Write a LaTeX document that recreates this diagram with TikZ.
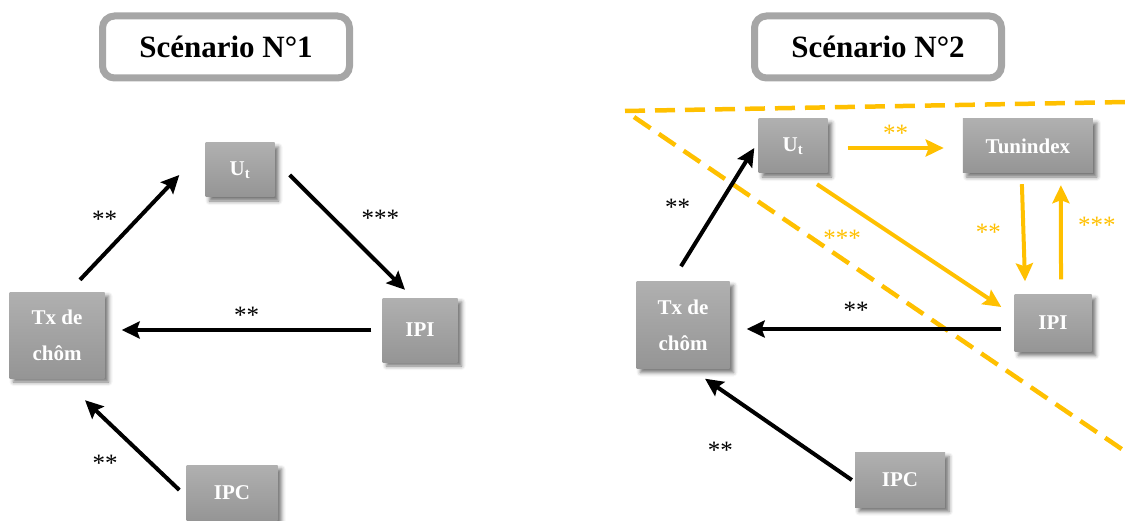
\documentclass[tikz,border=0pt]{standalone}
\usepackage{fontspec}
\setmainfont{Liberation Serif}
\usetikzlibrary{arrows.meta, positioning, shadows.blur}
\definecolor{gold}{HTML}{FFC000}
\definecolor{boxtop}{HTML}{B0B0B0}
\definecolor{boxbot}{HTML}{959595}
\definecolor{frame}{HTML}{A6A6A6}

\begin{document}
\begin{tikzpicture}[
        x=1pt, y=-1pt,
        title/.style={
            rectangle,
            rounded corners=12pt,
            line width=7pt,
            draw=frame,
            fill=white,
            minimum width=247pt,
            minimum height=62pt,
            font=\fontsize{31}{36}\selectfont\bfseries
        },
        box/.style={
            rectangle,
            top color=boxtop,
            bottom color=boxbot,
            text=white,
            align=center,
            font=\fontsize{21}{36}\selectfont\bfseries,
            blur shadow={shadow xshift=4pt, shadow yshift=-4pt, shadow blur radius=4pt, shadow opacity=55}
        },
        arrow/.style={
            line width=4pt,
            -{Stealth[length=18pt, width=17pt, inset=3pt]}
        },
        goldarrow/.style={
            arrow,
            draw=gold,
            fill=gold
        },
        stars/.style={
            font=\fontsize{25}{26}\selectfont
        },
        goldstars/.style={
            stars,
            text=gold
        },
        border/.style={
            draw=gold,
            line width=4.5pt,
            dash pattern=on 20pt off 10pt
        }
    ]
        \useasboundingbox (0,0) rectangle (1126,521);

        % titles
        \node (title1) [title] at (226,47) {Scénario N°1};
        \node (title2) [title] at (878,47) {Scénario N°2};

        % scenario 1
        \node (ut1) [box, minimum width=69pt, minimum height=54pt] at (240,170) {U\textsubscript{t}};
        \node (tx1) [box, minimum width=95pt, minimum height=86pt] at (57,335) {Tx de\\chôm};
        \node (ipi1) [box, minimum width=75pt, minimum height=64pt] at (420,330) {IPI};
        \node (ipc1) [box, minimum width=91pt, minimum height=56pt] at (232,493) {IPC};

        \draw [arrow] ([xshift=23pt, yshift=12pt]tx1.north) -- node[stars, xshift=-25pt, yshift=8pt] {**} ([xshift=-26pt, yshift=-5pt]ut1.west);
        \draw [arrow] ([xshift=15pt, yshift=-5pt]ut1.east) -- node[stars, xshift=33pt, yshift=14pt] {***} ([xshift=-15pt, yshift=8pt]ipi1.north);
        \draw [arrow] ([xshift=-11pt]ipi1.west) -- node[stars, above=1pt] {**} ([xshift=17pt, yshift=5pt]tx1.east);
        \draw [arrow] ([xshift=-7pt, yshift=3pt]ipc1.west) -- node[stars, xshift=-27pt, yshift=-18pt] {**} ([xshift=28pt, yshift=-22pt]tx1.south);

        % scenario 2
        \coordinate (topleft) at (625,111);
        \coordinate (topright) at (1126,102);
        \coordinate (diagtop) at (634,117);
        \coordinate (diagend) at (1126,452);
        \draw [border] (topleft) -- (topright);
        \draw [border] (diagtop) -- (diagend);

        \node (ut2) [box, minimum width=69pt, minimum height=54pt] at (793,146) {U\textsubscript{t}};
        \node (tun2) [box, minimum width=130pt, minimum height=54pt, right=135pt of ut2] {Tunindex};
        \node (tx2) [box, minimum width=93pt, minimum height=87pt] at (683,325) {Tx de\\chôm};
        \node (ipi2) [box, minimum width=77pt, minimum height=57pt] at (1053,323) {IPI};
        \node (ipc2) [box, minimum width=90pt, minimum height=55pt] at (900,480) {IPC};

        \draw [arrow] ([xshift=-2pt, yshift=15pt]tx2.north) -- node[stars, xshift=-40pt] {**} ([xshift=-4pt, yshift=-2pt]ut2.west);
        \draw [goldarrow] ([xshift=20pt, yshift=-2pt]ut2.east) -- node[goldstars, above=1pt] {**} ([xshift=-19pt, yshift=-2pt]tun2.west);
        \draw [goldarrow] ([xshift=-6pt, yshift=-11pt]tun2.south) -- node[goldstars, xshift=-35pt] {**} ([xshift=-28pt, yshift=13pt]ipi2.north);
        \draw [goldarrow] ([xshift=8pt, yshift=15pt]ipi2.north) -- node[goldstars, xshift=36pt, yshift=7pt] {***} ([xshift=33pt, yshift=-12pt]tun2.south);
        \draw [goldarrow] ([xshift=24pt, yshift=-11pt]ut2.south) -- node[goldstars, xshift=-67pt, yshift=7pt] {***} ([xshift=-13pt, yshift=16pt]ipi2.west);
        \draw [arrow] ([xshift=-13pt, yshift=-6pt]ipi2.west) -- node[stars, xshift=-18pt, yshift=19pt] {**} ([xshift=17pt, yshift=-4pt]tx2.east);
        \draw [arrow] ([xshift=-3pt]ipc2.west) -- node[stars, xshift=-58pt, yshift=-21pt] {**} ([xshift=22pt, yshift=-10pt]tx2.south);

    \end{tikzpicture}
\end{document}
